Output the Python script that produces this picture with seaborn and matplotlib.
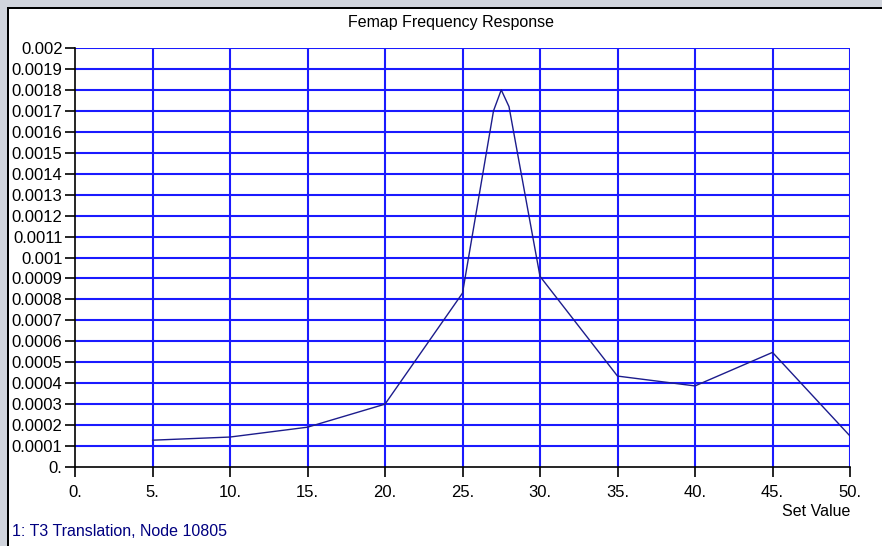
import matplotlib
matplotlib.use("Agg")
import matplotlib.pyplot as plt
import seaborn as sns
from matplotlib.patches import Rectangle

# values
set_value = [5, 10, 15, 20, 25, 27, 27.5, 28, 30, 35, 40, 45, 50]
t3_translation = [0.000128, 0.000143, 0.00019, 0.0003, 0.00083, 0.0017, 0.0018,
                  0.00172, 0.00091, 0.000434, 0.000387, 0.000547, 0.000148]

x_ticks = [0, 5, 10, 15, 20, 25, 30, 35, 40, 45, 50]
x_labels = ["0.", "5.", "10.", "15.", "20.", "25.", "30.", "35.", "40.", "45.", "50."]
y_ticks = [i * 0.0001 for i in range(21)]
y_labels = ["0."] + ["%g" % round(v, 4) for v in y_ticks[1:]]

title = "Femap Frequency Response"
x_title = "Set Value"
legend_text = "1: T3 Translation, Node 10805"

sns.set_style("white")
plt.rcParams["font.family"] = ["Liberation Sans", "DejaVu Sans"]

W, H = 882, 546
fig = plt.figure(figsize=(W / 100, H / 100), dpi=100)
fig.patch.set_facecolor("white")

# window frame: grey strip top/left and black inner edge
fig.patches.append(Rectangle((0, 1 - 7 / H), 1, 7 / H, transform=fig.transFigure,
                             facecolor="#d0d4dc", edgecolor="none", zorder=0))
fig.patches.append(Rectangle((0, 0), 7 / W, 1, transform=fig.transFigure,
                             facecolor="#d0d4dc", edgecolor="none", zorder=0))
fig.patches.append(Rectangle((7 / W, 1 - 9 / H), 1, 2 / H, transform=fig.transFigure,
                             facecolor="black", edgecolor="none", zorder=0))
fig.patches.append(Rectangle((7 / W, 0), 2 / W, 1 - 7 / H, transform=fig.transFigure,
                             facecolor="black", edgecolor="none", zorder=0))

left, right, bottom, top = 75 / W, 850 / W, 1 - 467 / H, 1 - 48 / H
ax = fig.add_axes([left, bottom, right - left, top - bottom])

sns.lineplot(x=set_value, y=t3_translation, ax=ax, color="#1c1c8c", linewidth=1.0,
             zorder=5)

ax.set_xlim(0, 50)
ax.set_ylim(0, 0.002)
ax.set_xticks(x_ticks)
ax.set_xticklabels(x_labels)
ax.set_yticks(y_ticks)
ax.set_yticklabels(y_labels)

for v in x_ticks[1:]:
    ax.axvline(v, color="#1a1aff", linewidth=1.5, zorder=2)
for v in y_ticks[1:]:
    ax.axhline(v, color="#1a1aff", linewidth=1.5, zorder=2)

for side in ["top", "right"]:
    ax.spines[side].set_visible(False)
for side in ["left", "bottom"]:
    ax.spines[side].set_color("black")
    ax.spines[side].set_linewidth(1.2)
    ax.spines[side].set_zorder(6)

ax.tick_params(axis="both", direction="out", length=7, width=1.2, color="black",
               labelsize=12, labelcolor="black", left=True, bottom=True)
ax.tick_params(axis="y", pad=2)
ax.tick_params(axis="x", pad=6)

fig.text(451 / W, 1 - 22 / H, title, ha="center", va="center", fontsize=11.5,
         color="black")
fig.text(850 / W, 1 - 512 / H, x_title, ha="right", va="center", fontsize=11.5,
         color="black")
fig.text(12 / W, 1 - 532 / H, legend_text, ha="left", va="center", fontsize=11.5,
         color="#000080")

fig.savefig("out.png", dpi=100)
